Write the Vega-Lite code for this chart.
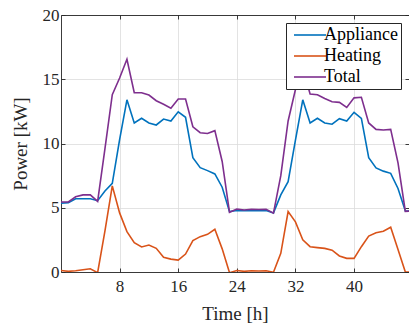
{
  "$schema": "https://vega.github.io/schema/vega-lite/v6.json",
  "width": 348,
  "height": 257,
  "autosize": {"type": "none"},
  "padding": {"left": 61, "top": 15, "right": 0, "bottom": 59},
  "background": "white",
  "config": {
    "view": {"stroke": null},
    "font": "Liberation Serif",
    "axis": {
      "domainColor": "#262626",
      "domainWidth": 0.9,
      "tickColor": "#262626",
      "tickWidth": 0.9,
      "tickSize": -4,
      "labelFont": "Liberation Serif",
      "labelFontSize": 17,
      "labelColor": "#262626",
      "titleFont": "Liberation Serif",
      "titleFontSize": 19,
      "titleFontWeight": "normal",
      "titleColor": "#262626",
      "gridColor": "#dcdcdc",
      "gridWidth": 0.8
    }
  },
  "data": {
    "values": [
      {"t": 0, "Appliance": 5.35, "Heating": 0.12, "Total": 5.45},
      {"t": 1, "Appliance": 5.4, "Heating": 0.05, "Total": 5.45},
      {"t": 2, "Appliance": 5.7, "Heating": 0.1, "Total": 5.85},
      {"t": 3, "Appliance": 5.7, "Heating": 0.18, "Total": 6.0},
      {"t": 4, "Appliance": 5.7, "Heating": 0.25, "Total": 6.0},
      {"t": 5, "Appliance": 5.55, "Heating": -0.05, "Total": 5.5},
      {"t": 6, "Appliance": 6.3, "Heating": 3.2, "Total": 9.6},
      {"t": 7, "Appliance": 6.9, "Heating": 6.7, "Total": 13.8},
      {"t": 8, "Appliance": 10.3, "Heating": 4.6, "Total": 15.1},
      {"t": 9, "Appliance": 13.4, "Heating": 3.14, "Total": 16.55},
      {"t": 10, "Appliance": 11.6, "Heating": 2.28, "Total": 13.95},
      {"t": 11, "Appliance": 11.96, "Heating": 1.95, "Total": 13.95},
      {"t": 12, "Appliance": 11.6, "Heating": 2.1, "Total": 13.77},
      {"t": 13, "Appliance": 11.44, "Heating": 1.84, "Total": 13.33},
      {"t": 14, "Appliance": 11.9, "Heating": 1.14, "Total": 13.05},
      {"t": 15, "Appliance": 11.75, "Heating": 1.0, "Total": 12.74},
      {"t": 16, "Appliance": 12.47, "Heating": 0.93, "Total": 13.46},
      {"t": 17, "Appliance": 12.04, "Heating": 1.4, "Total": 13.46},
      {"t": 18, "Appliance": 8.9, "Heating": 2.44, "Total": 11.3},
      {"t": 19, "Appliance": 8.12, "Heating": 2.75, "Total": 10.84},
      {"t": 20, "Appliance": 7.89, "Heating": 2.93, "Total": 10.78},
      {"t": 21, "Appliance": 7.63, "Heating": 3.32, "Total": 11.0},
      {"t": 22, "Appliance": 6.6, "Heating": 1.8, "Total": 8.6},
      {"t": 23, "Appliance": 4.7, "Heating": -0.05, "Total": 4.65},
      {"t": 24, "Appliance": 4.78, "Heating": 0.12, "Total": 4.9},
      {"t": 25, "Appliance": 4.78, "Heating": 0.05, "Total": 4.83},
      {"t": 26, "Appliance": 4.78, "Heating": 0.1, "Total": 4.88},
      {"t": 27, "Appliance": 4.78, "Heating": 0.08, "Total": 4.86},
      {"t": 28, "Appliance": 4.78, "Heating": 0.1, "Total": 4.88},
      {"t": 29, "Appliance": 4.6, "Heating": -0.02, "Total": 4.58},
      {"t": 30, "Appliance": 6.0, "Heating": 1.45, "Total": 7.5},
      {"t": 31, "Appliance": 7.03, "Heating": 4.7, "Total": 11.75},
      {"t": 32, "Appliance": 10.27, "Heating": 3.9, "Total": 14.2},
      {"t": 33, "Appliance": 13.4, "Heating": 2.5, "Total": 15.9},
      {"t": 34, "Appliance": 11.6, "Heating": 1.97, "Total": 13.85},
      {"t": 35, "Appliance": 11.96, "Heating": 1.9, "Total": 13.8},
      {"t": 36, "Appliance": 11.6, "Heating": 1.84, "Total": 13.5},
      {"t": 37, "Appliance": 11.5, "Heating": 1.7, "Total": 13.25},
      {"t": 38, "Appliance": 11.93, "Heating": 1.25, "Total": 13.2},
      {"t": 39, "Appliance": 11.75, "Heating": 1.06, "Total": 12.8},
      {"t": 40, "Appliance": 12.43, "Heating": 1.06, "Total": 13.55},
      {"t": 41, "Appliance": 11.96, "Heating": 1.97, "Total": 13.6},
      {"t": 42, "Appliance": 8.9, "Heating": 2.8, "Total": 11.6},
      {"t": 43, "Appliance": 8.1, "Heating": 3.06, "Total": 11.1},
      {"t": 44, "Appliance": 7.85, "Heating": 3.17, "Total": 11.05},
      {"t": 45, "Appliance": 7.68, "Heating": 3.48, "Total": 11.1},
      {"t": 46, "Appliance": 6.5, "Heating": 1.75, "Total": 8.5},
      {"t": 47, "Appliance": 4.75, "Heating": 0.0, "Total": 4.72},
      {"t": 48, "Appliance": 4.75, "Heating": 0.0, "Total": 4.75}
    ]
  },
  "transform": [{"fold": ["Appliance", "Heating", "Total"], "as": ["series", "power"]}],
  "layer": [
    {
      "mark": {"type": "line", "strokeWidth": 1.6, "clip": true},
      "encoding": {
        "x": {
          "field": "t", "type": "quantitative",
          "scale": {"domain": [0, 47.5], "nice": false, "zero": false},
          "axis": {"title": "Time [h]", "values": [8, 16, 24, 32, 40], "grid": true, "labelPadding": 10, "titlePadding": 10}
        },
        "y": {
          "field": "power", "type": "quantitative",
          "scale": {"domain": [0, 20], "nice": false},
          "axis": {"title": "Power [kW]", "values": [0, 5, 10, 15, 20], "grid": true, "labelPadding": 6, "titlePadding": 12}
        },
        "color": {
          "field": "series", "type": "nominal",
          "scale": {"domain": ["Appliance", "Heating", "Total"], "range": ["#0072BD", "#D95319", "#7E2F8E"]},
          "legend": {
            "title": null, "orient": "none", "legendX": 225, "legendY": 8,
            "symbolType": "M-1,0H7", "symbolSize": 64, "symbolStrokeWidth": 1.6,
            "labelFont": "Liberation Serif", "labelFontSize": 18, "labelColor": "black", "labelOffset": 17, "labelLimit": 0,
            "padding": 3, "rowPadding": 3, "strokeColor": "#262626", "fillColor": "white"
          }
        }
      }
    },
    {
      "mark": {"type": "line", "strokeOpacity": 0, "clip": true},
      "encoding": {
        "x": {
          "field": "t", "type": "quantitative",
          "axis": {"orient": "top", "title": null, "labels": false, "grid": false, "values": [8, 16, 24, 32, 40]}
        },
        "y": {
          "field": "power", "type": "quantitative",
          "axis": {"orient": "right", "title": null, "labels": false, "grid": false, "domain": false, "values": [0, 5, 10, 15, 20]}
        },
        "detail": {"field": "series", "type": "nominal"}
      }
    }
  ],
  "resolve": {"axis": {"x": "independent", "y": "independent"}}
}
